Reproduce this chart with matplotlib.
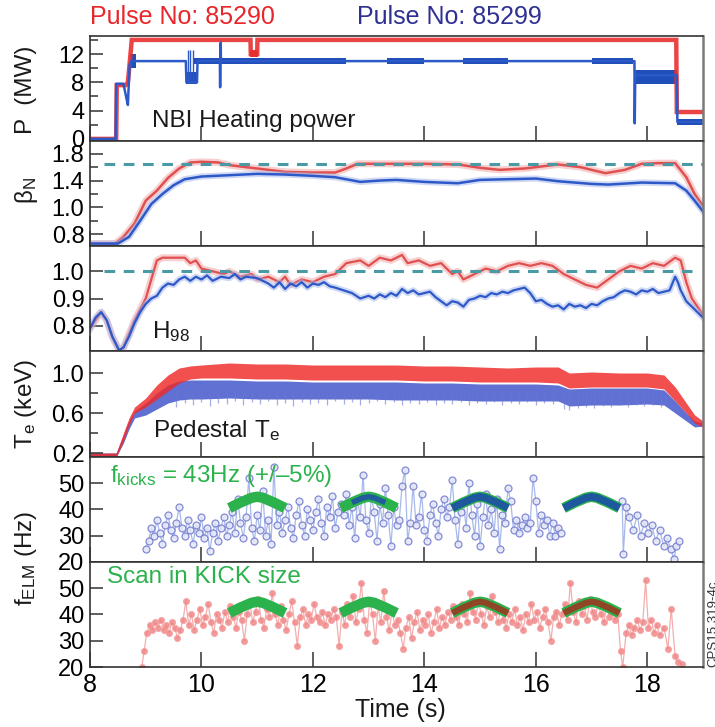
import numpy as np
import matplotlib
matplotlib.use("Agg")
import matplotlib.pyplot as plt

plt.rcParams['font.family'] = ['Liberation Sans', 'DejaVu Sans']
plt.rcParams['mathtext.fontset'] = 'custom'
plt.rcParams['mathtext.rm'] = 'Liberation Sans'
plt.rcParams['mathtext.it'] = 'Liberation Sans:italic'

# ---------------- data ----------------
xticks = [8, 10, 12, 14, 16, 18]

# NBI power (MW)
p_red_t = [8.0, 8.47, 8.48, 8.64, 8.68, 8.75, 10.88, 10.885, 11.0, 11.005, 18.52, 18.53, 19.0]
p_red = [0, 0, 7.6, 7.6, 8.0, 14.0, 14.0, 12.0, 12.0, 14.0, 14.0, 3.8, 3.8]
p_blue_t = [8.0, 8.46, 8.47, 8.60, 8.66, 8.68, 8.71, 8.74, 9.72, 9.73, 9.92, 9.93,
            10.33, 10.335, 10.345, 10.35, 17.77, 17.775, 17.785, 17.79, 18.53, 18.54, 19.0]
p_blue = [0, 0, 7.8, 7.8, 5.5, 4.8, 10.5, 11.0, 11.0, 8.0, 8.0, 11.0,
          11.0, 7.3, 13.6, 11.0, 11.0, 2.2, 9.5, 9.0, 9.0, 2.4, 2.4]
# oscillating (thick) parts of the blue trace: start, end, low, high
pb_band_t0 = [8.72, 9.72, 9.84, 13.33, 14.7, 17.0, 17.79, 18.54]
pb_band_t1 = [8.82, 9.92, 12.6, 14.0, 15.5, 17.75, 18.53, 19.0]
pb_band_lo = [10.0, 7.7, 10.6, 10.6, 10.6, 10.6, 7.8, 2.0]
pb_band_hi = [12.0, 9.4, 11.4, 11.4, 11.4, 11.4, 9.8, 2.8]
pb_spike_t = [9.75, 9.80, 9.85]
pb_spike_lo = [8.0, 8.0, 8.0]
pb_spike_hi = [12.6, 12.6, 12.6]
pr_band_t0 = [10.88]
pr_band_t1 = [11.02]
pr_band_lo = [11.6]
pr_band_hi = [12.5]

# beta_N
b_red_t = [8.0, 8.45, 8.6, 8.8, 9.0, 9.2, 9.4, 9.6, 9.8, 10.0, 10.3, 10.5, 11.0, 11.5, 12.0,
           12.4, 12.6, 12.8, 13.5, 14.0, 14.6, 15.0, 15.35, 15.8, 16.4, 16.8, 17.25, 17.6,
           17.9, 18.2, 18.5, 18.7, 18.85, 19.0]
b_red = [0.73, 0.73, 0.78, 0.88, 1.10, 1.25, 1.44, 1.58, 1.67, 1.68, 1.67, 1.63, 1.58, 1.53,
         1.52, 1.52, 1.58, 1.65, 1.65, 1.65, 1.64, 1.59, 1.56, 1.58, 1.64, 1.60, 1.51, 1.56,
         1.65, 1.66, 1.66, 1.45, 1.20, 1.02]
b_blue_t = [8.0, 8.5, 8.7, 8.9, 9.1, 9.3, 9.5, 9.7, 10.0, 10.5, 11.0, 11.5, 12.0, 12.4, 12.85,
            13.2, 13.5, 14.0, 14.6, 15.0, 15.5, 16.0, 16.4, 17.0, 17.3, 17.9, 18.5, 18.7,
            18.85, 19.0]
b_blue = [0.73, 0.73, 0.78, 0.90, 1.05, 1.20, 1.33, 1.42, 1.46, 1.48, 1.50, 1.49, 1.47, 1.45,
          1.38, 1.40, 1.41, 1.38, 1.36, 1.41, 1.42, 1.43, 1.39, 1.35, 1.34, 1.37, 1.36, 1.25,
          1.10, 0.97]
b_ref = 1.65
b_ticks = [0.8, 1.0, 1.4, 1.8]
b_minor = [0.9, 1.2, 1.6]

# H98
h_red_t = [8.0, 8.1, 8.2, 8.3, 8.4, 8.52, 8.6, 8.7, 8.8, 8.9, 9.0, 9.1, 9.2, 9.3, 9.5, 9.7,
           9.8, 9.9, 10.0, 10.2, 10.4, 10.5, 10.7, 10.9, 11.0, 11.2, 11.4, 11.5, 11.6, 11.8,
           12.0, 12.2, 12.4, 12.6, 12.85, 13.0, 13.2, 13.4, 13.6, 13.7, 13.9, 14.1, 14.3,
           14.5, 14.6, 14.7, 14.9, 15.1, 15.3, 15.5, 15.7, 15.9, 16.1, 16.3, 16.5, 16.7,
           16.9, 17.1, 17.3, 17.5, 17.7, 17.9, 18.1, 18.3, 18.5, 18.6, 18.7, 18.8, 19.0]
h_red = [0.79, 0.82, 0.85, 0.82, 0.76, 0.71, 0.72, 0.77, 0.82, 0.86, 0.90, 0.97, 1.04, 1.05,
         1.05, 1.05, 1.03, 1.04, 1.01, 1.00, 0.99, 1.00, 0.98, 0.99, 0.97, 0.98, 0.96, 0.98,
         0.95, 0.97, 0.96, 0.98, 0.99, 1.03, 1.04, 1.02, 1.05, 1.04, 1.06, 1.03, 1.04, 1.02,
         1.03, 0.99, 1.00, 0.97, 0.99, 1.01, 1.00, 1.02, 1.03, 1.02, 1.03, 1.02, 0.99, 0.97,
         0.95, 0.94, 0.97, 1.00, 1.02, 1.01, 1.03, 1.02, 1.05, 1.04, 0.96, 0.90, 0.84]
h_blue_t = [8.0, 8.1, 8.2, 8.3, 8.4, 8.52, 8.6, 8.7, 8.8, 8.9, 9.0, 9.1, 9.2, 9.3, 9.4, 9.5,
            9.6, 9.7, 9.8, 9.9, 10.0, 10.1, 10.2, 10.35, 10.5, 10.6, 10.7, 10.8, 11.0, 11.1,
            11.2, 11.3, 11.4, 11.5, 11.6, 11.7, 11.8, 11.9, 12.0, 12.1, 12.2, 12.3, 12.4,
            12.55, 12.7, 12.85, 13.0, 13.1, 13.2, 13.3, 13.4, 13.5, 13.6, 13.7, 13.8, 13.9,
            14.0, 14.1, 14.2, 14.3, 14.4, 14.5, 14.6, 14.7, 14.8, 14.9, 15.0, 15.1, 15.2,
            15.3, 15.4, 15.5, 15.6, 15.8, 15.9, 16.0, 16.1, 16.2, 16.3, 16.4, 16.5, 16.6,
            16.7, 16.8, 16.9, 17.0, 17.1, 17.2, 17.3, 17.4, 17.5, 17.6, 17.7, 17.8, 17.9,
            18.0, 18.1, 18.2, 18.3, 18.4, 18.5, 18.55, 18.6, 18.7, 18.85, 19.0]
h_blue = [0.79, 0.83, 0.85, 0.82, 0.76, 0.71, 0.72, 0.76, 0.81, 0.85, 0.88, 0.90, 0.91, 0.94,
          0.955, 0.95, 0.97, 0.98, 0.965, 0.98, 0.97, 0.985, 0.965, 0.98, 0.975, 0.99, 0.97,
          0.98, 0.975, 0.965, 0.955, 0.94, 0.96, 0.935, 0.955, 0.945, 0.96, 0.94, 0.955,
          0.95, 0.96, 0.945, 0.94, 0.93, 0.92, 0.90, 0.91, 0.90, 0.915, 0.905, 0.92, 0.91,
          0.935, 0.92, 0.93, 0.915, 0.92, 0.925, 0.905, 0.89, 0.875, 0.89, 0.885, 0.87,
          0.895, 0.90, 0.91, 0.905, 0.92, 0.915, 0.925, 0.92, 0.93, 0.94, 0.92, 0.89, 0.895,
          0.88, 0.87, 0.875, 0.86, 0.88, 0.87, 0.875, 0.865, 0.88, 0.875, 0.89, 0.90, 0.905,
          0.92, 0.93, 0.925, 0.915, 0.93, 0.925, 0.935, 0.92, 0.925, 0.93, 0.98, 0.96, 0.93,
          0.89, 0.86, 0.83]
h_ref = 1.0

# Pedestal Te (keV): band edges
te_t = [8.0, 8.47, 8.6, 8.7, 8.8, 9.0, 9.2, 9.4, 9.6, 9.8, 10.0, 10.5, 11.0, 11.5, 12.0, 12.5,
        13.0, 13.5, 14.0, 14.5, 15.0, 15.5, 16.0, 16.4, 16.6, 17.0, 17.5, 18.0, 18.3, 18.5,
        18.7, 18.85, 19.0]
te_red_hi = [0.20, 0.20, 0.40, 0.55, 0.66, 0.75, 0.88, 0.98, 1.05, 1.07, 1.08, 1.10, 1.09,
             1.09, 1.08, 1.08, 1.08, 1.08, 1.07, 1.07, 1.06, 1.05, 1.06, 1.06, 1.00, 1.01,
             1.00, 1.00, 0.98, 0.86, 0.70, 0.58, 0.52]
te_red_lo = [0.16, 0.16, 0.32, 0.48, 0.60, 0.66, 0.74, 0.82, 0.90, 0.94, 0.95, 0.95, 0.94,
             0.94, 0.93, 0.93, 0.93, 0.93, 0.92, 0.92, 0.91, 0.91, 0.91, 0.90, 0.85, 0.86,
             0.86, 0.86, 0.84, 0.72, 0.60, 0.50, 0.46]
te_blue_hi = [0.20, 0.20, 0.38, 0.52, 0.62, 0.70, 0.80, 0.88, 0.92, 0.93, 0.93, 0.93, 0.92,
              0.92, 0.91, 0.91, 0.91, 0.91, 0.90, 0.90, 0.89, 0.89, 0.89, 0.88, 0.84, 0.85,
              0.85, 0.85, 0.83, 0.72, 0.60, 0.52, 0.50]
te_blue_lo = [0.16, 0.16, 0.30, 0.44, 0.55, 0.58, 0.64, 0.70, 0.73, 0.74, 0.74, 0.75, 0.74,
              0.74, 0.74, 0.74, 0.74, 0.73, 0.73, 0.73, 0.72, 0.72, 0.72, 0.72, 0.67, 0.68,
              0.68, 0.69, 0.68, 0.60, 0.52, 0.46, 0.47]
# downward excursions of the 85299 pedestal Te below its band
te_spike_t = [9.55, 9.7, 9.85, 10.0, 10.15, 10.3, 10.45, 10.6, 10.75, 10.9, 11.05, 11.2,
              11.35, 11.5, 11.65, 11.8, 11.95, 12.1, 12.25, 12.4, 12.55, 12.7, 12.85, 13.0,
              13.15, 13.3, 13.45, 13.6, 13.75, 13.9, 14.05, 14.2, 14.35, 14.5, 14.65, 14.8,
              14.95, 15.1, 15.25, 15.4, 15.55, 15.7, 15.85, 16.0, 16.15, 16.3, 16.5, 16.6,
              16.75, 16.9, 17.05, 17.2, 17.35, 17.5, 17.65, 17.8, 17.95, 18.1, 18.25]
te_spike_lo = [0.66, 0.70, 0.68, 0.71, 0.67, 0.70, 0.69, 0.72, 0.68, 0.71, 0.69, 0.72,
               0.68, 0.70, 0.67, 0.71, 0.69, 0.70, 0.68, 0.72, 0.69, 0.71, 0.68, 0.70,
               0.72, 0.69, 0.71, 0.68, 0.70, 0.69, 0.71, 0.68, 0.70, 0.69, 0.71, 0.68,
               0.70, 0.69, 0.71, 0.68, 0.70, 0.69, 0.71, 0.68, 0.70, 0.69, 0.64, 0.63,
               0.65, 0.66, 0.65, 0.67, 0.66, 0.68, 0.66, 0.68, 0.67, 0.68, 0.66]

# ELM frequency (Hz), pulse 85299 (blue)
f_blue_t = [9.00, 9.05, 9.10, 9.15, 9.20, 9.25, 9.30, 9.35, 9.40, 9.45, 9.50, 9.55, 9.60, 9.65,
            9.70, 9.75, 9.80, 9.85, 9.90, 9.95, 10.00, 10.05, 10.10, 10.15, 10.20, 10.25,
            10.30, 10.35, 10.40, 10.45, 10.50, 10.55, 10.60, 10.65, 10.70, 10.75, 10.80,
            10.85, 10.90, 10.95, 11.00, 11.05, 11.10, 11.15, 11.20, 11.25, 11.30, 11.35,
            11.40, 11.45, 11.50, 11.55, 11.60, 11.65, 11.70, 11.75, 11.80, 11.85, 11.90,
            11.95, 12.00, 12.05, 12.10, 12.15, 12.20, 12.25, 12.30, 12.35, 12.40, 12.45,
            12.50, 12.55, 12.60, 12.65, 12.70, 12.75, 12.80, 12.85, 12.90, 12.95, 13.00,
            13.05, 13.10, 13.15, 13.20, 13.25, 13.30, 13.35, 13.40, 13.45, 13.50, 13.55,
            13.60, 13.65, 13.70, 13.75, 13.80, 13.85, 13.90, 13.95, 14.00, 14.05, 14.10,
            14.15, 14.20, 14.25, 14.30, 14.35, 14.40, 14.45, 14.50, 14.55, 14.60, 14.65,
            14.70, 14.75, 14.80, 14.85, 14.90, 14.95, 15.00, 15.05, 15.10, 15.15, 15.20,
            15.25, 15.30, 15.35, 15.40, 15.45, 15.50, 15.55, 15.60, 15.65, 15.70, 15.75,
            15.80, 15.85, 15.90, 15.95, 16.00, 16.05, 16.10, 16.15, 16.20, 16.25, 16.30,
            16.35, 16.40, 16.45,
            17.55, 17.57, 17.62, 17.68, 17.75, 17.82, 17.88, 17.95, 18.02, 18.08, 18.15,
            18.22, 18.30, 18.36, 18.42, 18.48, 18.52, 18.57]
f_blue = [25, 28, 33, 30, 36, 31, 27, 34, 38, 32, 29, 35, 41, 33,
          30, 36, 32, 27, 34, 31, 37, 29, 33, 24, 31, 35,
          28, 33, 37, 30, 34, 39, 31, 44, 35, 29, 37,
          52, 33, 28, 38, 32, 47, 30, 36, 27, 56, 34,
          39, 31, 36, 41, 33, 29, 38, 43, 34, 30, 40,
          36, 32, 39, 44, 35, 30, 41, 37, 45, 33, 39,
          42, 38, 46, 34, 41, 29, 44, 37, 53, 36, 31,
          45, 39, 28, 42, 35, 48, 38, 26, 41, 34, 36,
          49, 55, 28, 35, 49, 34, 37, 46, 32, 28, 38,
          42, 35, 30, 40, 44, 37, 41, 51, 36, 27, 39,
          43, 33, 50, 38, 30, 42, 26, 37, 46, 34, 40,
          31, 44, 25, 38, 35, 48, 43, 32, 36, 31, 34,
          37, 33, 35, 52, 43, 31, 38, 34, 36, 30, 35,
          30, 33, 31,
          43, 23, 41, 37, 32, 38, 30, 35, 31, 34, 28,
          32, 26, 29, 25, 21, 26, 28]

# ELM frequency (Hz), pulse 85290 (red)
f_red_t = [8.93, 8.97, 9.02, 9.07, 9.12, 9.17, 9.22, 9.27, 9.32, 9.37, 9.42, 9.47, 9.52, 9.57,
           9.62, 9.67, 9.72, 9.77, 9.82, 9.87, 9.92, 9.97, 10.02, 10.07, 10.12, 10.17, 10.22,
           10.27, 10.32, 10.37, 10.42, 10.47, 10.52, 10.57, 10.62, 10.67, 10.72, 10.77,
           10.82, 10.87, 10.92, 10.97, 11.02, 11.07, 11.12, 11.17, 11.22, 11.27, 11.32,
           11.37, 11.42, 11.47, 11.52, 11.57, 11.62, 11.67, 11.72, 11.77, 11.82, 11.87,
           11.92, 11.97, 12.02, 12.07, 12.12, 12.17, 12.22, 12.27, 12.32, 12.37, 12.42,
           12.47, 12.52, 12.57, 12.62, 12.67, 12.72, 12.77, 12.82, 12.87, 12.92, 12.97,
           13.02, 13.07, 13.12, 13.17, 13.22, 13.27, 13.32, 13.37, 13.42, 13.47, 13.52,
           13.57, 13.62, 13.67, 13.72, 13.77, 13.82, 13.87, 13.92, 13.97, 14.02, 14.07,
           14.12, 14.17, 14.22, 14.27, 14.32, 14.37, 14.42, 14.47, 14.52, 14.57, 14.62,
           14.67, 14.72, 14.77, 14.82, 14.87, 14.92, 14.97, 15.02, 15.07, 15.12, 15.17,
           15.22, 15.27, 15.32, 15.37, 15.42, 15.47, 15.52, 15.57, 15.62, 15.67, 15.72,
           15.77, 15.82, 15.87, 15.92, 15.97, 16.02, 16.07, 16.12, 16.17, 16.22, 16.27,
           16.32, 16.37, 16.42, 16.47, 16.52, 16.57, 16.62, 16.67, 16.72, 16.77, 16.82,
           16.87, 16.92, 16.97, 17.02, 17.07, 17.12, 17.17, 17.22, 17.27, 17.32, 17.37,
           17.42, 17.47, 17.52, 17.56, 17.62, 17.67, 17.72, 17.77, 17.82, 17.87, 17.92,
           17.97, 18.02, 18.07, 18.12, 18.17, 18.22, 18.30, 18.37, 18.43, 18.50, 18.56,
           18.62]
f_red = [20, 26, 33, 36, 34, 37, 35, 38, 34, 36, 33, 37, 35, 31,
         34, 38, 45, 36, 40, 34, 38, 42, 36, 39, 44, 37, 33,
         40, 38, 35, 41, 37, 43, 39, 35, 41, 38, 30,
         40, 44, 37, 41, 46, 38, 35, 42, 39, 48, 40,
         36, 43, 38, 34, 40, 45, 37, 28, 39, 42, 36,
         40, 38, 44, 39, 37, 41, 36, 40, 38, 42, 39,
         28, 41, 36, 44, 39, 47, 37, 42, 52, 38, 33,
         45, 40, 30, 43, 37, 49, 39, 34, 41, 36, 38,
         33, 27, 35, 39, 31, 37, 41, 34, 38, 36, 40,
         33, 37, 42, 35, 39, 36, 41, 38, 43, 39, 36,
         44, 40, 37, 48, 41, 38, 45, 40, 36, 43, 39,
         47, 41, 37, 42, 38, 35, 40, 37, 42, 36, 39,
         34, 40, 37, 44, 38, 41, 35, 39, 42, 37, 30,
         39, 41, 36, 40, 44, 38, 52, 41, 37, 45, 40,
         43, 38, 46, 41, 39, 44, 40, 37, 43, 39, 41,
         38, 40, 26, 20, 33, 36, 32, 35, 38, 34, 37,
         53, 35, 38, 33, 36, 32, 35, 27, 42, 24, 22,
         21]

# kick-frequency programme (green chevrons)
kick_start = [10.5, 12.5, 14.5, 16.5]
kick_dt = [0.0, 0.2, 0.4, 0.5, 0.6, 0.8, 1.0]
kick_f = [40.5, 42.6, 44.4, 44.8, 44.4, 42.6, 40.5]

# ---------------- figure ----------------
W, H = 715, 727
fig = plt.figure(figsize=(W / 100, H / 100), dpi=100)
L_px, R_px = 90, 703
edges = [36, 141, 246, 351, 457, 562, 667]
axes = []
for i in range(6):
    t_px, b_px = edges[i], edges[i + 1]
    ax = fig.add_axes([L_px / W, 1 - b_px / H, (R_px - L_px) / W, (b_px - t_px) / H])
    axes.append(ax)

RED = '#e8302f'
BLUE = '#2d58c8'
GREEN = '#2bb24c'
TEAL = '#4a9aa6'
FS = 17

for i, ax in enumerate(axes):
    ax.set_xlim(8, 19)
    ax.set_xticks(xticks)
    ax.tick_params(axis='x', direction='in', length=10.5, width=1.1, color='#333333',
                   top=False, bottom=True, labelsize=18, pad=4)
    ax.tick_params(axis='y', which='major', direction='in', length=9, width=1.1,
                   color='#333333', right=False, labelsize=FS, pad=4)
    ax.tick_params(axis='y', which='minor', direction='in', length=5.5, width=1.1,
                   color='#333333', right=False)
    for s in ['left', 'top', 'bottom']:
        ax.spines[s].set_color('#333333')
        ax.spines[s].set_linewidth(1.2)
    ax.spines['right'].set_color('#7a7a7a')
    ax.spines['right'].set_linewidth(1.8)
    if i < 5:
        ax.tick_params(axis='x', labelbottom=False)

# Panel 1: NBI power
ax = axes[0]
for t0, t1, lo, hi in zip(pr_band_t0, pr_band_t1, pr_band_lo, pr_band_hi):
    ax.fill_between([t0, t1], [lo, lo], [hi, hi], color=RED, lw=0)
ax.plot(p_red_t, p_red, color=RED, lw=3.2, alpha=0.9, solid_joinstyle='miter')
for t0, t1, lo, hi in zip(pb_band_t0, pb_band_t1, pb_band_lo, pb_band_hi):
    ax.fill_between([t0, t1], [lo, lo], [hi, hi], color='#1f4fb8', lw=0)
ax.vlines(pb_spike_t, pb_spike_lo, pb_spike_hi, color=BLUE, lw=1.0)
ax.plot(p_blue_t, p_blue, color=BLUE, lw=1.8)
ax.set_ylim(-0.3, 14.55)
ax.set_yticks([0, 4, 8, 12])
ax.set_yticks([2, 6, 10, 14], minor=True)
ax.text(152 / W, 1 - 127 / H, 'NBI Heating power', transform=fig.transFigure,
        fontsize=17.5, color='#1a1a1a', va='baseline')

# Panel 2: beta_N with piecewise-linear axis as in the original
bx = [0.4, 0.8, 1.0, 1.4, 1.8, 2.2]
by = [-2.0, 0.0, 1.0, 2.0, 3.0, 4.0]
def fwd(v):
    return np.interp(v, bx, by)
def inv(p):
    return np.interp(p, by, bx)
ax = axes[1]
ax.set_yscale('function', functions=(fwd, inv))
ax.plot(b_red_t, b_red, color='#f0a0a0', lw=5, alpha=0.5)
ax.plot(b_red_t, b_red, color='#e05050', lw=1.8)
ax.plot(b_blue_t, b_blue, color='#a0b4ec', lw=4.5, alpha=0.5)
ax.plot(b_blue_t, b_blue, color=BLUE, lw=1.8)
ax.axhline(b_ref, xmin=(8.25 - 8) / 11, xmax=1, color=TEAL, lw=2.2, ls=(0, (3.5, 2.8)))
ax.set_ylim(0.712, 1.99)
ax.set_yticks(b_ticks)
ax.set_yticklabels(['0.8', '1.0', '1.4', '1.8'])
ax.set_yticks(b_minor, minor=True)
ax.yaxis.set_minor_formatter(matplotlib.ticker.NullFormatter())

# Panel 3: H98
ax = axes[2]
ax.plot(h_red_t, h_red, color='#f0a0a0', lw=5, alpha=0.5)
ax.plot(h_red_t, h_red, color='#e05050', lw=1.6)
ax.plot(h_blue_t, h_blue, color='#a0b4ec', lw=4.5, alpha=0.5)
ax.plot(h_blue_t, h_blue, color=BLUE, lw=1.6)
ax.axhline(h_ref, xmin=(8.25 - 8) / 11, xmax=(18.8 - 8) / 11, color=TEAL, lw=2.2,
           ls=(0, (3.5, 2.8)))
ax.set_ylim(0.707, 1.093)
ax.set_yticks([0.8, 0.9, 1.0])
ax.set_yticklabels(['0.8', '0.9', '1.0'])
ax.text(152 / W, 1 - 338 / H, 'H$_{98}$', transform=fig.transFigure,
        fontsize=17.5, color='#1a1a1a', va='baseline')

# Panel 4: pedestal Te
ax = axes[3]
ax.vlines(te_spike_t, te_spike_lo, 0.80, color='#6a78d4', lw=0.9, alpha=0.6)
ax.fill_between(te_t, te_blue_lo, te_blue_hi, color='#3a4cc8', alpha=0.8, lw=0)
ax.fill_between(te_t, te_red_lo, te_red_hi, color='#f02828', alpha=0.82, lw=0)
ax.set_ylim(0.16, 1.22)
ax.set_yticks([0.2, 0.6, 1.0])
ax.set_yticklabels(['0.2', '0.6', '1.0'])
ax.set_yticks([0.4, 0.8], minor=True)
ax.text(153 / W, 1 - 437 / H, 'Pedestal T$_{\\mathrm{e}}$', transform=fig.transFigure,
        fontsize=17.5, color='#1a1a1a', va='baseline')

# Panels 5-6: ELM frequency
fbt = np.array(f_blue_t)
fbv = np.array(f_blue, dtype=float)
gap = np.where(np.diff(fbt) > 0.5)[0]
segs = np.split(np.arange(len(fbt)), gap + 1)
ax = axes[4]
for sidx in segs:
    ax.plot(fbt[sidx], fbv[sidx], color='#98ace8', lw=0.9, marker='o', ms=5,
            mfc='#e2e6f8', mec='#7078cc', mew=0.9, alpha=0.85)
for k, t0 in enumerate(kick_start):
    kt = [t0 + d for d in kick_dt]
    ax.plot(kt, kick_f, color=GREEN, lw=7.5, solid_capstyle='butt', zorder=5)
    if k == 1:
        ax.plot(kt[1:-1], kick_f[1:-1], color='#1d4fa8', lw=4, solid_capstyle='butt',
                zorder=6, alpha=0.85)
    elif k > 1:
        ax.plot(kt, kick_f, color='#1d4fa8', lw=5.5, solid_capstyle='butt', zorder=6,
                alpha=0.9)
ax.set_ylim(20, 59.9)
ax.set_yticks([20, 30, 40, 50])
ax.text(110 / W, 1 - 482 / H, 'f$_{\\mathrm{kicks}}$ = 43Hz (+/\u20135%)',
        transform=fig.transFigure, fontsize=17.5, color=GREEN, va='baseline')

ax = axes[5]
ax.plot(f_red_t, f_red, color='#f29a9a', lw=0.9, marker='o', ms=4.5,
        mfc='#f08080', mec='#f3a0a0', mew=0.6, alpha=0.8)
for k, t0 in enumerate(kick_start):
    kt = [t0 + d for d in kick_dt]
    ax.plot(kt, kick_f, color=GREEN, lw=7.5, solid_capstyle='butt', zorder=5)
    if k >= 2:
        ax.plot(kt, kick_f, color='#9a3a22', lw=4.5, solid_capstyle='butt', zorder=6,
                alpha=0.9)
ax.set_ylim(20, 59.9)
ax.set_yticks([20, 30, 40, 50])
ax.set_xticklabels([str(v) for v in xticks])
ax.text(107 / W, 1 - 583 / H, 'Scan in KICK size', transform=fig.transFigure,
        fontsize=17.5, color=GREEN, va='baseline')

# titles and axis labels
fig.text(90 / W, 1 - 24 / H, 'Pulse No: 85290', color='#e8262b', fontsize=18, va='baseline')
fig.text(357 / W, 1 - 24 / H, 'Pulse No: 85299', color='#2e3192', fontsize=18, va='baseline')
fig.text(400 / W, 1 - 710 / H, 'Time (s)', fontsize=18, ha='center', va='center',
         color='#1a1a1a')
ylab_x = 26 / W
fig.text(ylab_x, 1 - 90 / H, 'P  (MW)', rotation=90, fontsize=17.5, ha='center',
         va='center', color='#1a1a1a')
fig.text(ylab_x, 1 - 190 / H, '\u03b2$_{\\mathrm{N}}$', rotation=90, fontsize=17.5,
         ha='center', va='center', color='#1a1a1a')
fig.text(ylab_x, 1 - 404 / H, 'T$_{\\mathrm{e}}$ (keV)', rotation=90, fontsize=17.5,
         ha='center', va='center', color='#1a1a1a')
fig.text(ylab_x, 1 - 558 / H, 'f$_{\\mathrm{ELM}}$ (Hz)', rotation=90, fontsize=17.5,
         ha='center', va='center', color='#1a1a1a')
fig.text(713 / W, 1 - 667 / H, 'CPS15.319-4c', rotation=90, fontsize=9.5, ha='center',
         va='bottom', color='#333333')

fig.savefig('out.png', dpi=100)
